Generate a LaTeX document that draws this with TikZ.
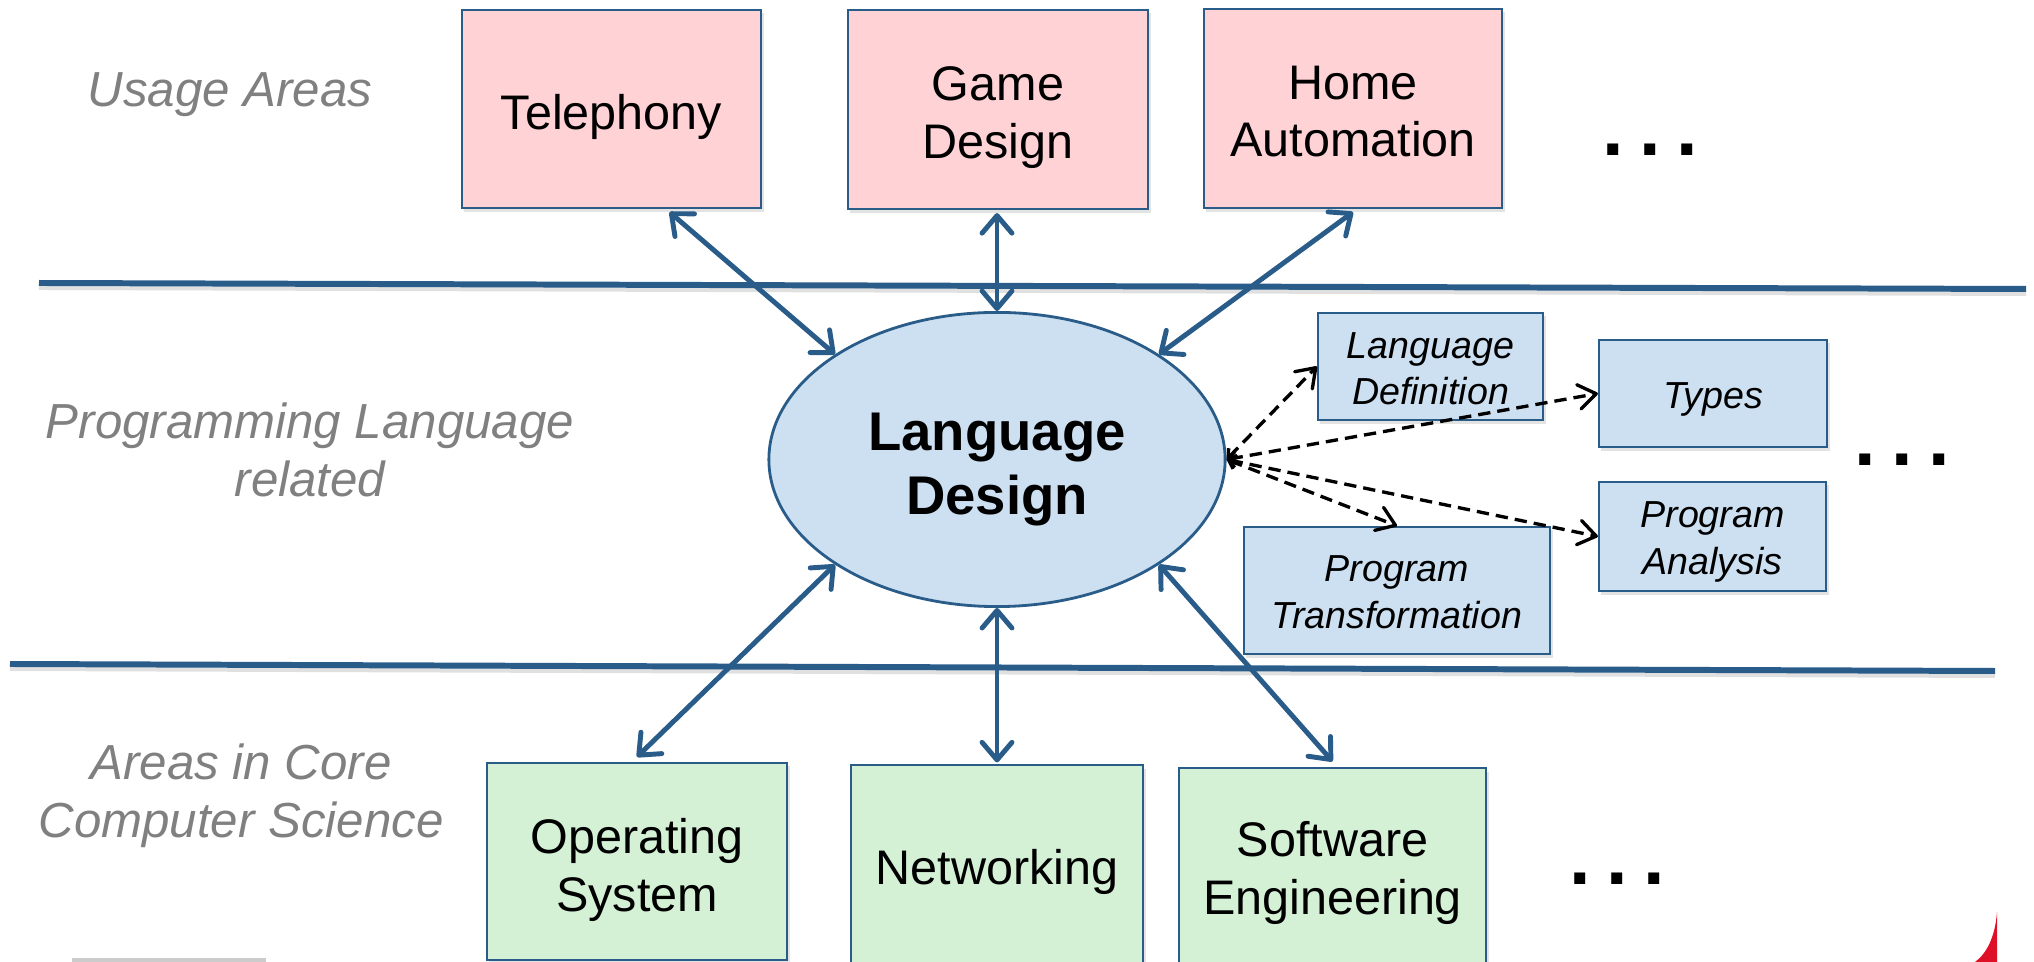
\documentclass[tikz,border=0pt]{standalone}
\usepackage{fontspec}
\setmainfont{Liberation Sans}
\usetikzlibrary{arrows.meta,shapes.geometric,shadows}
\definecolor{edgeblue}{RGB}{42,92,138}
\definecolor{pinkfill}{RGB}{255,210,214}
\definecolor{greenfill}{RGB}{212,241,214}
\definecolor{bluefill}{RGB}{205,224,241}
\definecolor{labelgray}{RGB}{128,128,128}
\definecolor{cornerred}{RGB}{222,16,40}

% centred lines of text, set a little below the middle of their box
\newcommand{\lowlines}[2]{%
  \setbox0=\hbox{\begin{tabular}{@{}c@{}}#2\end{tabular}}%
  \setbox2=\hbox{\lower#1\copy0}%
  \ht2=\ht0 \dp2=\dp0 \box2}

\begin{document}
\begin{tikzpicture}[x=0.01cm,y=-0.01cm,
  box/.style={draw=edgeblue, line width=0.6pt, inner sep=0pt,
    font=\fontsize{13.8}{16.4}\selectfont,
    drop shadow={shadow xshift=0.025cm, shadow yshift=-0.035cm, opacity=0.22}},
  usage/.style={box, fill=pinkfill},
  core/.style={box, fill=greenfill},
  topic/.style={box, fill=bluefill, font=\fontsize{10.7}{13.2}\selectfont\itshape},
  area/.style={text=labelgray, align=center, font=\fontsize{14}{16.6}\selectfont\itshape},
  more/.style={inner sep=0pt, font=\fontsize{22}{22}\selectfont\bfseries},
  sep/.style={draw=edgeblue, line width=1.7pt},
  link/.style={draw=edgeblue, line width=1.4pt, line cap=round,
    {Straight Barb[length=5pt,width=8.5pt,round]}-{Straight Barb[length=5pt,width=8.5pt,round]}},
  spoke/.style={draw=black, line width=0.95pt, dash pattern=on 3.5pt off 2pt,
    {Straight Barb[length=2pt,width=3.6pt]}-{Straight Barb[length=5pt,width=7pt,round]}}
]
\useasboundingbox (0,0) rectangle (2034,962);

% row separators
\draw[sep, draw=black, opacity=0.12] (39,287) -- (2026,293);
\draw[sep] (39,283) -- (2026,289);
\draw[sep, draw=black, opacity=0.12] (10,668) -- (1995,675);
\draw[sep] (10,664) -- (1995,671);

% row labels
\node[area] (lblusage) at (230,95) {Usage Areas};
\node[area] (lblpl) at (310,450) {Programming Language\\related};
\node[area] (lblcore) at (241,796) {Areas in Core\\Computer Science};

% usage areas
\node[usage, minimum width=2.99cm, minimum height=1.98cm] (tel) at (611.5,109) {\lowlines{2.6pt}{Telephony}};
\node[usage, minimum width=3.00cm, minimum height=1.99cm] (game) at (998,109.5) {\lowlines{2.5pt}{Game\\Design}};
\node[usage, minimum width=2.98cm, minimum height=1.99cm] (home) at (1353,108.5) {\lowlines{2.3pt}{Home\\Automation}};
\node[more] (moretop) at (1650,150) {.\hspace{4.4pt}.\hspace{4.4pt}.};

% central topic
\node[ellipse, draw=edgeblue, line width=0.8pt, fill=bluefill,
  minimum width=4.56cm, minimum height=2.94cm, inner sep=0pt,
  font=\fontsize{15.5}{18.2}\selectfont\bfseries] (ld) at (997,459.5) {\lowlines{2.9pt}{Language\\Design}};

% programming language topics
\node[topic, minimum width=2.25cm, minimum height=1.07cm] (ldef) at (1430.5,366.5) {\lowlines{1.7pt}{Language\\Definition}};
\node[topic, minimum width=2.28cm, minimum height=1.07cm] (types) at (1713,393.5) {\lowlines{1.5pt}{Types}};
\node[topic, minimum width=2.27cm, minimum height=1.09cm] (pa) at (1712.5,536.5) {\lowlines{1.5pt}{Program\\Analysis}};
\node[topic, minimum width=3.06cm, minimum height=1.27cm] (pt) at (1397,590.5) {\lowlines{1.5pt}{Program\\Transformation}};
\node[more] (moremid) at (1902,460) {.\hspace{4.4pt}.\hspace{4.4pt}.};

% core computer science areas
\node[core, minimum width=3.00cm, minimum height=1.97cm] (os) at (637,861.5) {\lowlines{2.7pt}{Operating\\System}};
\node[core, minimum width=2.92cm, minimum height=1.97cm] (net) at (997,864) {\lowlines{2.6pt}{Networking}};
\node[core, minimum width=3.07cm, minimum height=1.95cm] (se) at (1332.5,866) {\lowlines{2.2pt}{Software\\Engineering}};
\node[more] (morebot) at (1617,879) {.\hspace{4.4pt}.\hspace{4.4pt}.};

% links to the central topic
\draw[link] ([xshift=0.58cm,yshift=-0.03cm]tel.south) -- (ld.147);
\draw[link] ([yshift=-0.03cm]ld.north |- game.south) -- (ld.north);
\draw[link] ([yshift=-0.03cm]home.south) -- (ld.33);
\draw[link] ([yshift=0.05cm]os.north) -- (ld.213);
\draw[link] ([yshift=0.02cm]ld.south |- net.north) -- (ld.south);
\draw[link] ([yshift=0.06cm]se.north) -- (ld.327);

% dashed spokes
\draw[spoke] (ld.east) -- (ldef.west);
\draw[spoke] (ld.east) -- (types.west);
\draw[spoke] (ld.east) -- (pt.north);
\draw[spoke] (ld.east) -- (pa.west);

% page decorations
\fill[black!20] (72,958) rectangle (266,962);
\fill[cornerred] (1997,912) .. controls (1995,938) and (1986,954) .. (1975,962) -- (1997,962) -- cycle;
\end{tikzpicture}
\end{document}
